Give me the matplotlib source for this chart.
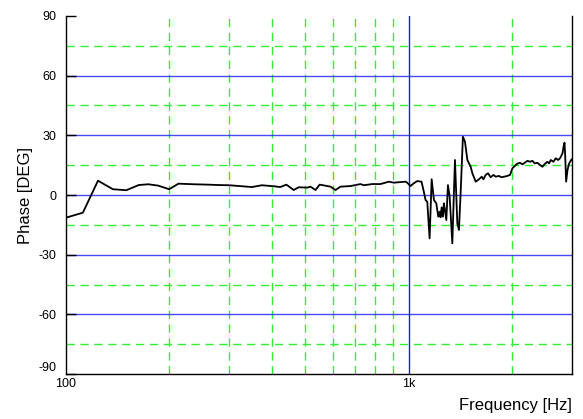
import matplotlib
matplotlib.use("Agg")
import matplotlib.pyplot as plt
from matplotlib.ticker import FixedLocator, NullFormatter
import matplotlib.transforms as mtransforms

plt.rcParams['font.family'] = ['Liberation Sans', 'DejaVu Sans']

freq = [100, 112, 124, 137, 150, 163, 174, 186, 200, 213, 236, 260, 280, 300, 349, 373, 404,
        422, 440, 462, 478, 506, 517, 535, 550, 559, 592, 612, 633, 677, 724, 740, 783, 828,
        876, 906, 948, 980, 991, 1013, 1036, 1060, 1091, 1108, 1121, 1134, 1152, 1168, 1186,
        1205, 1221, 1232, 1240, 1249, 1260, 1268, 1277, 1289, 1303, 1318, 1342, 1366, 1388,
        1403, 1419, 1441, 1461, 1485, 1501, 1518, 1536, 1570, 1605, 1635, 1654, 1679, 1706,
        1737, 1769, 1797, 1837, 1867, 1900, 1944, 1978, 2010, 2055, 2087, 2115, 2150, 2183,
        2224, 2263, 2299, 2335, 2378, 2420, 2459, 2498, 2543, 2571, 2601, 2648, 2690, 2732,
        2769, 2815, 2834, 2853, 2864, 2884, 2911, 2943, 2991, 3000]
phase = [-11.4, -8.9, 7.2, 2.9, 2.4, 5.0, 5.4, 4.7, 2.9, 5.7, 5.4, 5.2, 5.0, 4.9, 4.0, 4.9, 4.4,
         4.0, 5.2, 2.5, 3.9, 3.7, 4.2, 2.5, 5.2, 5.0, 4.2, 2.5, 4.2, 4.5, 5.5, 4.9, 5.5, 5.5,
         6.7, 6.2, 6.5, 6.7, 6.2, 4.5, 5.9, 7.0, 6.7, 1.7, -2.5, -3.4, -21.8, 7.9, -2.5,
         -4.2, -10.9, -8.4, -11.2, -6.2, -10.9, -4.2, -7.5, -12.6, 5.0, -0.8, -24.3, 17.6, -14.2,
         -17.6, 0.8, 29.3, 26.8, 17.6, 15.9, 14.2, 10.9, 6.7, 7.9, 9.2, 7.9, 10.1, 10.9,
         8.9, 10.1, 9.2, 9.6, 8.9, 9.2, 9.6, 10.1, 13.4, 15.1, 15.9, 16.2, 15.4, 16.2,
         17.2, 16.7, 17.2, 15.9, 16.2, 15.1, 14.2, 15.6, 16.7, 15.9, 17.6, 16.7, 18.5, 17.6,
         18.5, 21.0, 24.3, 26.3, 21.0, 6.7, 12.6, 15.9, 17.9, 17.9]

x_major = [100, 1000]
x_major_labels = ["100", "1k"]
x_minor = [200, 300, 400, 500, 600, 700, 800, 900, 2000]
y_major = [-90, -60, -30, 0, 30, 60, 90]
y_minor = [-75, -45, -15, 15, 45, 75]

fig = plt.figure(figsize=(5.83, 4.19), dpi=100)
ax = fig.add_axes([66/583, 1-374/419, (572-66)/583, (374-16)/419])

blue = '#1a1aff'
green = '#33ee33'
dash = (0, (6, 4))

for y in y_minor:
    ax.axhline(y, color=green, lw=1.0, ls=dash, zorder=1)
for x in x_minor:
    ax.axvline(x, color=green, lw=1.0, ls=dash, zorder=1)
for y in y_major[1:-1]:
    ax.axhline(y, color=blue, lw=1.0, alpha=0.8, zorder=1)
ax.axvline(1000, color=blue, lw=1.0, zorder=1)

ax.plot(freq, phase, color='black', lw=1.3, zorder=3)

ax.set_xscale('log')
ax.set_xlim(100, 3000)
ax.set_ylim(-90, 90)
ax.xaxis.set_major_locator(FixedLocator(x_major))
ax.set_xticklabels(x_major_labels)
ax.xaxis.set_minor_locator(FixedLocator([]))
ax.xaxis.set_minor_formatter(NullFormatter())
ax.set_yticks(y_major)
ax.set_yticklabels([str(v) for v in y_major])

ax.tick_params(axis='y', direction='in', length=7, width=1, labelsize=9, pad=7, colors='black')
ax.tick_params(axis='x', direction='in', length=0, labelsize=9, pad=3)

# shift bottom y tick label up slightly
lbls = ax.get_yticklabels()
offset = mtransforms.ScaledTranslation(0, 8/100, fig.dpi_scale_trans)
lbls[0].set_transform(lbls[0].get_transform() + offset)

for s in ['left', 'bottom', 'right']:
    ax.spines[s].set_color('black')
    ax.spines[s].set_linewidth(1.0)
ax.spines['top'].set_visible(False)

ax.set_ylabel('Phase [DEG]', fontsize=12, labelpad=4)
fig.text(572/583, 1-405/419, 'Frequency [Hz]', fontsize=12, ha='right', va='center')

fig.savefig('out.png', dpi=100)
